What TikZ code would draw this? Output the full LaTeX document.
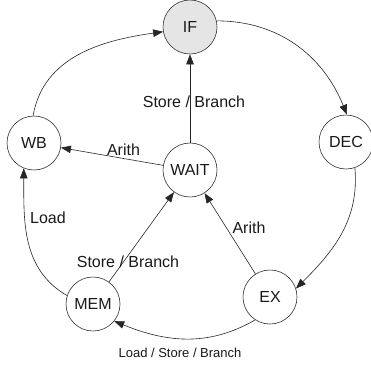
\documentclass[tikz,border=0pt]{standalone}
\usepackage{fontspec}
\setmainfont{Liberation Sans}
\usetikzlibrary{arrows.meta}
\begin{document}
\begin{tikzpicture}[x=1pt,y=1pt,
  state/.style={circle,draw=black!80,line width=0.6pt,minimum size=54pt,inner sep=0pt,
    font=\fontsize{16}{19}\selectfont,text=black!90},
  trans/.style={draw=black!85,line width=0.6pt,-{Triangle[length=10pt,width=7.5pt]}},
  lbl/.style={anchor=base,inner sep=0pt,font=\fontsize{16}{19}\selectfont,text=black!90},
  smalllbl/.style={anchor=base,inner sep=0pt,font=\fontsize{13}{16}\selectfont,text=black!90}]
\useasboundingbox (0,0) rectangle (371,365);

% pipeline states
\node[state,fill=black!10] (IF)   at (190,338) {IF};
\node[state]               (DEC)  at (346,223) {DEC};
\node[state]               (EX)   at (270,68)  {EX};
\node[state]               (MEM)  at (93,61)   {MEM};
\node[state]               (WB)   at (34,222)  {WB};
\node[state]               (WAIT) at (190,195) {WAIT};

% outer cycle
\draw[trans] (IF.13)  to[out=0,in=112]   (DEC.88);
\draw[trans] (DEC.-71) to[out=-85,in=45]  (EX.18);
\draw[trans] (EX.-123) to[out=-150,in=-22] (MEM.-39);
\draw[trans] (MEM.162) to[out=150,in=-90] (WB.-112);
\draw[trans] (WB.92)  to[out=80,in=188]  (IF.190);

% transitions through WAIT
\draw[trans] (WAIT) -- (IF);
\draw[trans] (WAIT) -- (WB);
\draw[trans] (MEM) -- (WAIT);
\draw[trans] (EX) -- (WAIT);

% transition labels
\node[lbl] (lSBtop) at (194,258) {Store / Branch};
\node[lbl] (lArTop) at (123.5,210) {Arith};
\node[lbl] (lLoad)  at (48,142) {Load};
\node[lbl] (lSBlow) at (128,98) {Store / Branch};
\node[lbl] (lArLow) at (249,132) {Arith};
\node[smalllbl] (lLSB) at (180,8) {Load / Store / Branch};
\end{tikzpicture}
\end{document}
